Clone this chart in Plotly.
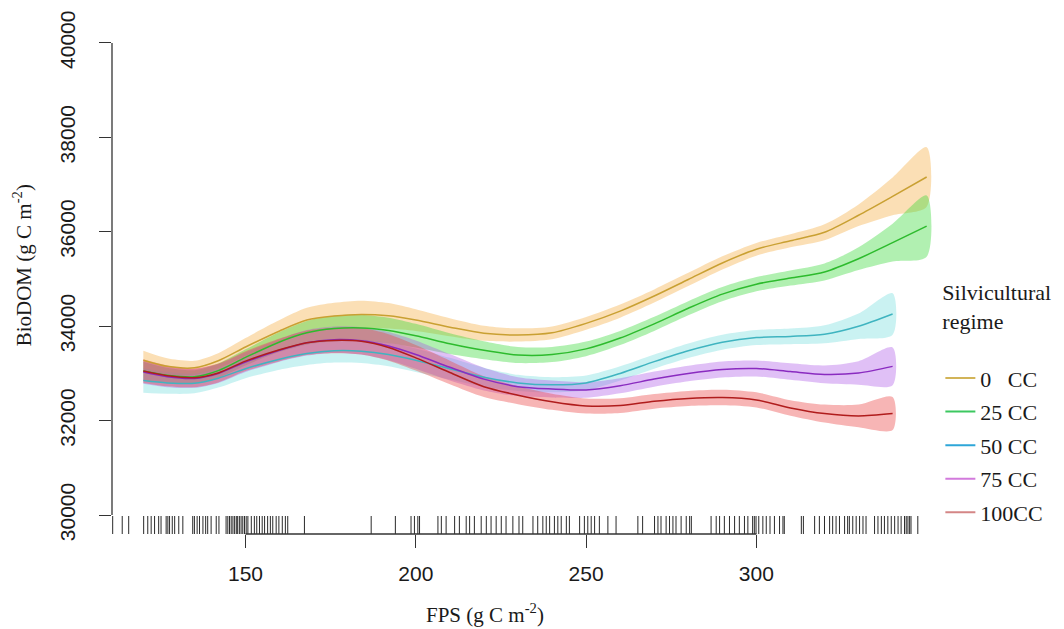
import plotly.graph_objects as go

# ---------------- data ----------------
X_FULL = [120, 127, 135, 142, 150, 160, 168, 176, 184, 192, 200, 210, 220, 230,
          240, 250, 260, 270, 280, 290, 300, 310, 320, 330, 340, 350]
X_SHORT = X_FULL[:-1]

fit_0 = [33280, 33150, 33120, 33270, 33560, 33900, 34130, 34215, 34250, 34220, 34130,
         33980, 33850, 33815, 33860, 34060, 34320, 34640, 34990, 35340, 35630, 35810,
         35990, 36350, 36750, 37160]
se_0 = [200, 170, 150, 160, 190, 230, 260, 280, 290, 270, 230, 190, 160, 140, 135, 135,
        140, 140, 140, 140, 135, 140, 170, 230, 400, 630]

fit_25 = [33050, 32960, 32930, 33060, 33340, 33667, 33860, 33950, 33965, 33910, 33800,
          33630, 33490, 33390, 33400, 33520, 33750, 34050, 34380, 34680, 34890, 35020,
          35150, 35430, 35770, 36120]
se_25 = [200, 160, 140, 150, 170, 210, 250, 270, 280, 270, 250, 220, 190, 170, 160, 155,
         150, 150, 150, 150, 150, 160, 180, 240, 400, 650]

fit_50 = [32850, 32800, 32790, 32900, 33100, 33300, 33420, 33480, 33470, 33400, 33280,
          33100, 32920, 32800, 32760, 32800, 33000, 33250, 33480, 33660, 33760, 33785,
          33830, 34000, 34260]
se_50 = [260, 230, 210, 200, 200, 220, 240, 250, 250, 250, 250, 230, 200, 170, 160, 155,
         150, 150, 155, 160, 160, 165, 190, 270, 440]

fit_75 = [33030, 32930, 32895, 33000, 33240, 33490, 33650, 33715, 33690, 33580, 33400,
          33130, 32880, 32720, 32670, 32650, 32740, 32880, 33000, 33085, 33105, 33040,
          32980, 33010, 33150]
se_75 = [250, 220, 200, 200, 210, 240, 270, 280, 290, 300, 300, 280, 240, 200, 180, 165,
         160, 160, 165, 170, 170, 175, 190, 250, 400]

fit_100 = [33050, 32950, 32910, 33010, 33260, 33500, 33650, 33700, 33680, 33550, 33330,
           33020, 32720, 32540, 32400, 32310, 32320, 32410, 32470, 32490, 32440, 32270,
           32150, 32100, 32150]
se_100 = [250, 220, 200, 200, 210, 240, 260, 270, 280, 280, 270, 250, 220, 190, 170, 160,
          155, 155, 160, 165, 160, 165, 190, 240, 350]

RUG_X = [111.0, 113.8, 115.7, 120.1, 121.3, 122.3, 123.3, 124.5, 125.2, 126.7, 127.2,
         127.7, 128.5, 129.2, 130.4, 131.6, 134.5, 135.0, 135.8, 136.5, 137.5, 138.3,
         138.9, 139.9, 141.4, 142.2, 144.3, 144.8, 145.3, 145.8, 146.3, 146.8, 147.3,
         147.7, 148.2, 148.7, 149.2, 149.7, 150.2, 150.7, 151.7, 152.6, 153.3, 154.1,
         154.9, 155.6, 156.5, 157.3, 158.0, 159.0, 159.8, 160.8, 161.7, 162.4, 167.3,
         186.9, 194.0, 198.6, 199.6, 200.6, 201.1, 206.5, 207.5, 208.9, 211.4, 212.8,
         214.8, 215.8, 217.2, 219.2, 220.7, 222.1, 223.6, 225.1, 226.5, 228.5, 230.3,
         231.4, 234.4, 235.8, 237.3, 238.3, 239.3, 240.7, 241.7, 242.7, 244.2, 245.1,
         248.1, 249.5, 250.5, 251.5, 252.5, 253.9, 256.4, 258.8, 265.2, 266.6, 270.1,
         271.1, 272.0, 273.5, 274.5, 275.5, 276.4, 277.9, 279.4, 280.4, 280.9, 286.7,
         288.2, 289.2, 290.6, 292.1, 293.6, 295.0, 296.5, 297.5, 298.9, 299.4, 299.9,
         300.7, 301.9, 302.9, 304.0, 305.3, 306.8, 307.8, 308.2, 313.2, 313.8, 317.1,
         318.5, 320.0, 321.5, 322.4, 323.4, 324.4, 325.9, 326.8, 327.3, 328.3, 329.3,
         330.3, 331.3, 332.2, 334.7, 335.7, 336.7, 337.6, 338.6, 339.6, 340.6, 341.6,
         342.5, 343.5, 344.0, 344.5, 345.0, 345.4, 347.4]

X_TICKS = [150, 200, 250, 300]
Y_TICKS = [30000, 32000, 34000, 36000, 38000, 40000]
X_RANGE = [110.8, 359.2]
Y_RANGE = [29600, 40400]

LEGEND_LABELS = ["0\u00a0\u00a0 CC", "25 CC", "50 CC", "75 CC", "100CC"]
LEGEND_TITLE = "Silvicultural<br>regime<br> "
X_TITLE = "FPS (g C m<sup>-2</sup>)"
Y_TITLE = "BioDOM (g C m<sup>-2</sup>)"

# ---------------- styles ----------------
series = [
    (X_FULL, fit_0, se_0, "#C9A032", "rgba(245,170,60,0.38)", "#D2B458"),
    (X_FULL, fit_25, se_25, "#2DBB2D", "rgba(50,215,50,0.38)", "#3CC860"),
    (X_SHORT, fit_50, se_50, "#3FB4C0", "rgba(80,212,212,0.30)", "#2EA6D8"),
    (X_SHORT, fit_75, se_75, "#8A2BC0", "rgba(170,80,230,0.36)", "#D27ADC"),
    (X_SHORT, fit_100, se_100, "#B01C1C", "rgba(235,70,70,0.40)", "#D48686"),
]

fig = go.Figure()

for xs, fit, se, lc, fc, _ in series:
    upper = [f + s for f, s in zip(fit, se)]
    lower = [f - s for f, s in zip(fit, se)]
    fig.add_trace(go.Scatter(
        x=list(xs) + list(xs)[::-1], y=upper + lower[::-1],
        fill="toself", fillcolor=fc, mode="lines",
        line=dict(width=0, shape="spline", smoothing=0.8),
        hoverinfo="skip", showlegend=False))

for xs, fit, se, lc, fc, _ in series:
    fig.add_trace(go.Scatter(
        x=xs, y=fit, mode="lines",
        line=dict(color=lc, width=1.5, shape="spline", smoothing=0.8),
        showlegend=False))

# legend entries
for i, (lab, s) in enumerate(zip(LEGEND_LABELS, series)):
    fig.add_trace(go.Scatter(
        x=[None], y=[None], mode="lines", name=lab,
        legendgroup=f"g{i}",
        line=dict(color=s[5], width=2)))

# rug
fig.add_trace(go.Scatter(
    x=RUG_X, y=[0.0147] * len(RUG_X), yaxis="y2", mode="markers",
    marker=dict(symbol="line-ns-open", size=15, color="#2a2a2a",
                line=dict(color="#2a2a2a", width=1)),
    hoverinfo="skip", showlegend=False))

tick_font = dict(family="Liberation Sans, Arial", size=21, color="#1a1a1a")
serif = "Liberation Serif, Times New Roman"

fig.update_layout(
    width=1064, height=629,
    margin=dict(l=112, r=105, t=24, b=95),
    paper_bgcolor="white", plot_bgcolor="white",
    xaxis=dict(range=X_RANGE, tickvals=X_TICKS, ticks="outside", ticklen=13,
               tickwidth=1.3, tickcolor="#333", showgrid=False, zeroline=False,
               showline=False, tickfont=tick_font, ticklabelstandoff=8),
    yaxis=dict(range=Y_RANGE, tickvals=Y_TICKS, tickformat="d", ticks="outside",
               ticklen=12, tickwidth=1.3, tickcolor="#333", showgrid=False,
               zeroline=False, showline=False, tickfont=tick_font, tickangle=-90,
               ticklabelstandoff=16),
    yaxis2=dict(range=[0, 1], overlaying="y", visible=False),
    legend=dict(x=0.978, y=0.515, xanchor="left", yanchor="top",
                font=dict(family=serif, size=22, color="#1a1a1a"),
                title=dict(text=LEGEND_TITLE,
                           font=dict(family=serif, size=22, color="#1a1a1a")),
                tracegroupgap=2, bgcolor="rgba(0,0,0,0)", itemwidth=30),
    showlegend=True,
)

# R-style axis lines spanning first to last tick
fig.add_shape(type="line", xref="x", yref="paper", x0=X_TICKS[0], x1=X_TICKS[-1],
              y0=0, y1=0, line=dict(color="#333", width=1.3))
fig.add_shape(type="line", xref="paper", yref="y", x0=0, x1=0,
              y0=Y_TICKS[0], y1=Y_TICKS[-1], line=dict(color="#333", width=1.3))

fig.add_annotation(text=X_TITLE, xref="paper", yref="paper", x=0.4406, y=-0.155,
                   showarrow=False, xanchor="center", yanchor="middle",
                   font=dict(family=serif, size=21, color="#1a1a1a"))
fig.add_annotation(text=Y_TITLE, xref="paper", yref="paper", x=-0.1063, y=0.527,
                   showarrow=False, textangle=-90, xanchor="center", yanchor="middle",
                   font=dict(family=serif, size=21, color="#1a1a1a"))

fig.write_html("out.html")
